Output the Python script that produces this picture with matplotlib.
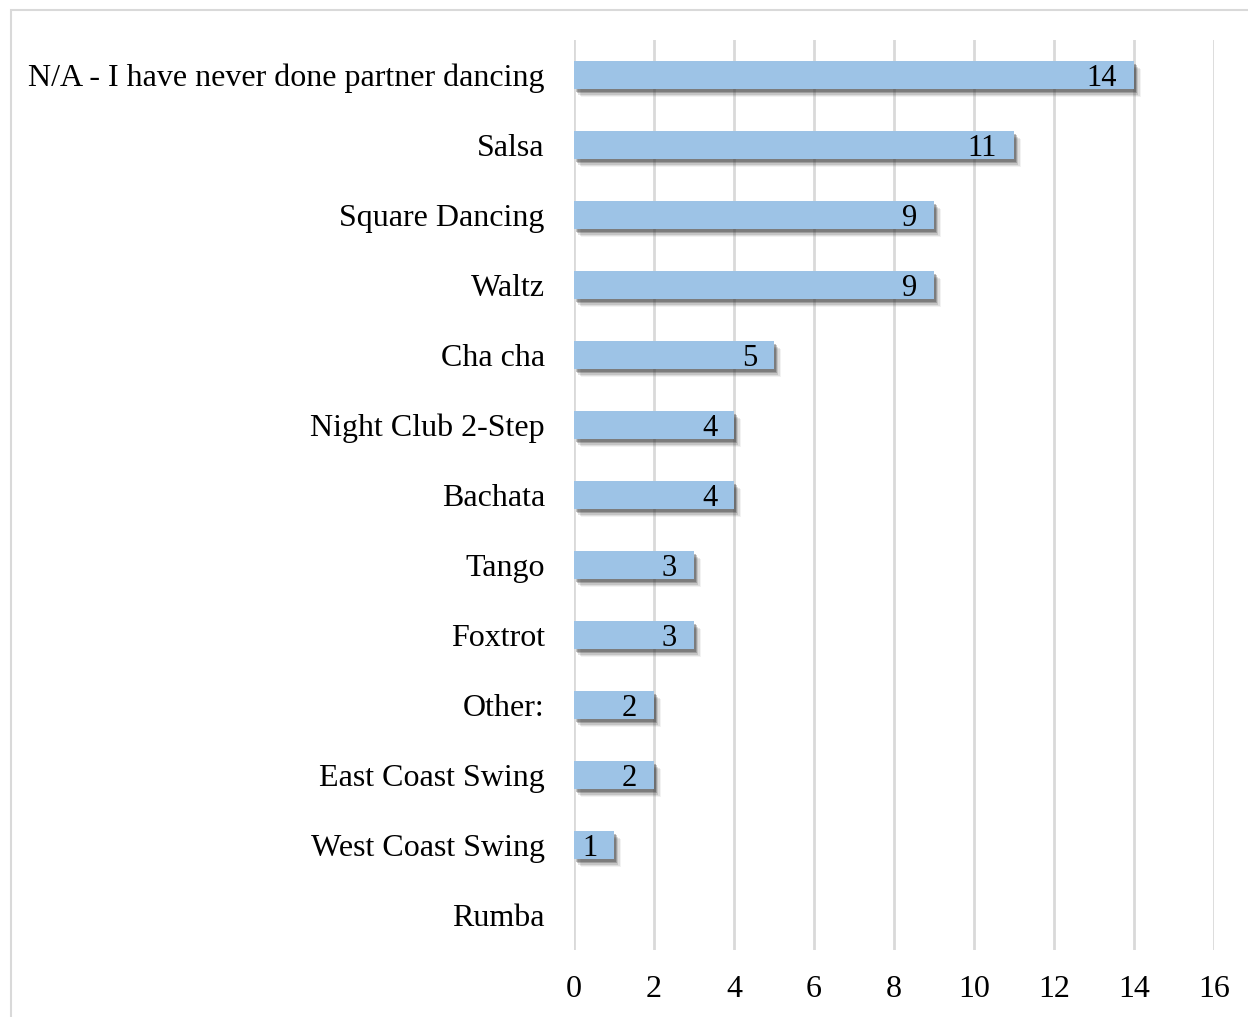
import numpy as np
import matplotlib
matplotlib.use("Agg")
import matplotlib.pyplot as plt
import matplotlib.patheffects as pe
from matplotlib.patches import Rectangle

styles = ["N/A - I have never done partner dancing", "Salsa", "Square Dancing", "Waltz",
          "Cha cha", "Night Club 2-Step", "Bachata", "Tango", "Foxtrot", "Other:",
          "East Coast Swing", "West Coast Swing", "Rumba"]
counts = [14, 11, 9, 9, 5, 4, 4, 3, 3, 2, 2, 1, 0]
xticks = [0, 2, 4, 6, 8, 10, 12, 14, 16]

plt.rcParams["font.family"] = ["Liberation Serif", "DejaVu Serif"]

fig = plt.figure(figsize=(12.48, 10.17), dpi=100)
ax = fig.add_axes([574/1248, 1 - 950/1017, 640/1248, 910/1017])

# outer chart frame
fig.patches.append(Rectangle((11/1248, -0.05), 1.1, 1 - 10/1017 + 0.05, transform=fig.transFigure,
                             fill=False, edgecolor="#d9d9d9", linewidth=1.5, zorder=0))

ypos = np.arange(len(styles))
# soft drop shadow: a few stacked offset copies
shadow = [pe.SimplePatchShadow(offset=(dx, -dy), shadow_rgbFace="#303030", alpha=a)
          for dx, dy, a in [(5, 6, 0.06), (4, 5, 0.1), (3, 4, 0.15), (2, 3, 0.25), (1.5, 2, 0.3)]]
bars = ax.barh(ypos, counts, height=0.4, color="#9dc3e6", zorder=3,
               path_effects=shadow + [pe.Normal()])

for y, v in zip(ypos, counts):
    if v > 0:
        ax.text(v - 0.42, y + 0.05, str(v), ha="right", va="center", fontsize=22, zorder=4)

ax.set_ylim(len(styles) - 0.5, -0.5)
ax.set_xlim(0, 16)
ax.set_xticks(xticks)
ax.set_yticks(ypos)
ax.set_yticklabels(styles)
ax.tick_params(axis="y", length=0, pad=21, labelsize=23)
ax.tick_params(axis="x", length=0, pad=18, labelsize=23)
ax.grid(axis="x", color="#d9d9d9", linewidth=2, zorder=0)
ax.set_axisbelow(True)
for s in ax.spines.values():
    s.set_visible(False)

fig.savefig("out.png", dpi=100)
